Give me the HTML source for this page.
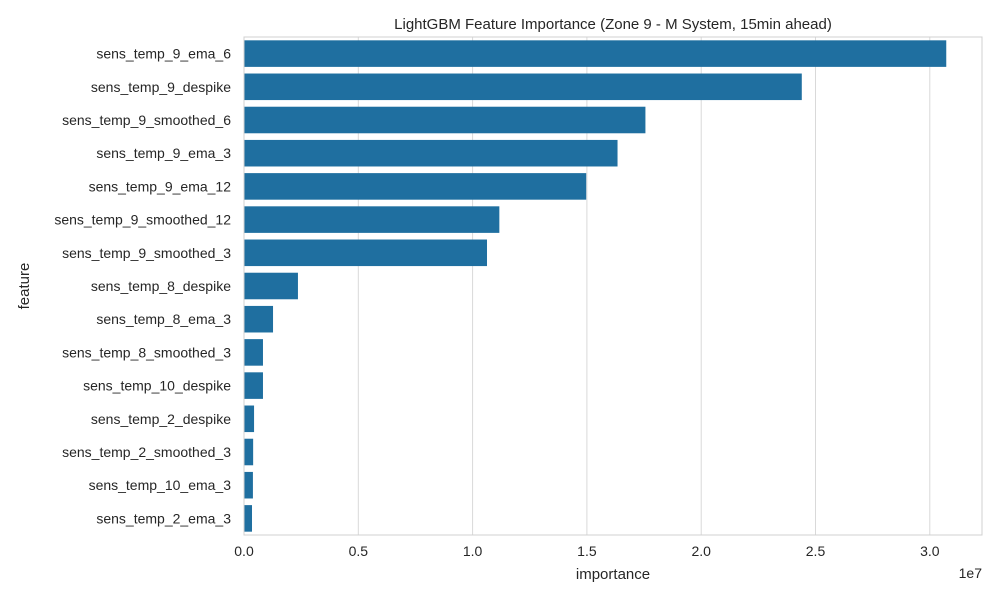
<!DOCTYPE html>
<html><head><meta charset="utf-8"><style>
body{margin:0;background:#fff;font-family:"Liberation Sans",sans-serif;}
svg text{font-family:"Liberation Sans",sans-serif;fill:#262626;}
</style></head><body>
<svg id="chart" width="1000" height="600">
<text x="613" y="29" font-size="15" text-anchor="middle">LightGBM Feature Importance (Zone 9 - M System, 15min ahead)</text>
<g id="grid"></g><g id="bars"></g><g id="yt"></g><g id="xt"></g>
<rect x="244" y="37" width="738" height="498" fill="none" stroke="#d0d0d0" stroke-width="1"/>
<text x="613" y="579" font-size="15" text-anchor="middle">importance</text>
<text x="29" y="286" font-size="15" text-anchor="middle" transform="rotate(-90 29 286)">feature</text>
<text x="982" y="578" font-size="14" text-anchor="end">1e7</text>
</svg>
<script>
const features=["sens_temp_9_ema_6","sens_temp_9_despike","sens_temp_9_smoothed_6","sens_temp_9_ema_3","sens_temp_9_ema_12","sens_temp_9_smoothed_12","sens_temp_9_smoothed_3","sens_temp_8_despike","sens_temp_8_ema_3","sens_temp_8_smoothed_3","sens_temp_10_despike","sens_temp_2_despike","sens_temp_2_smoothed_3","sens_temp_10_ema_3","sens_temp_2_ema_3"];
const importance=[3.072,2.44,1.756,1.634,1.497,1.117,1.063,0.236,0.127,0.083,0.083,0.044,0.04,0.039,0.035];
const xTicks=[0,0.5,1.0,1.5,2.0,2.5,3.0];
const xTickLabels=["0.0","0.5","1.0","1.5","2.0","2.5","3.0"];
const NS="http://www.w3.org/2000/svg";
const X0=244,PX=228.6,Y0=37,RH=498/15;
const x=v=>X0+v*PX, yc=i=>Y0+RH*(i+0.5);
function mk(t,a,p){const e=document.createElementNS(NS,t);for(const k in a)e.setAttribute(k,a[k]);document.getElementById(p).appendChild(e);return e;}
xTicks.forEach((t,i)=>{
 const l=mk('line',{x1:x(t),x2:x(t),y1:37,y2:535,stroke:'#d9d9d9','stroke-width':1},'grid');
 
 
 const tx=mk('text',{x:x(t),y:556,'font-size':14,'text-anchor':'middle'},'xt');tx.textContent=xTickLabels[i];
 
 
});
features.forEach((f,i)=>{
 const h=RH*0.8;
 const r=mk('rect',{x:X0,y:yc(i)-h/2,width:x(importance[i])-X0,height:h,fill:'#1f6fa0'},'bars');
 
 
 const tx=mk('text',{x:231,y:yc(i)+5,'font-size':14,'text-anchor':'end'},'yt');tx.textContent=f;
 
 
});
</script>
</body></html>
